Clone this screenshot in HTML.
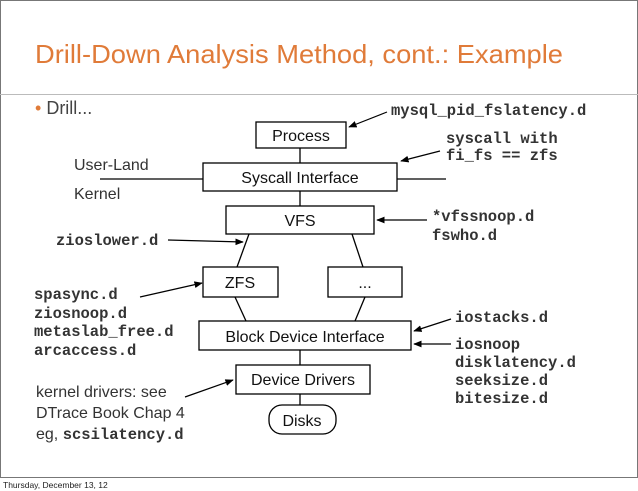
<!DOCTYPE html>
<html><head><meta charset="utf-8"><style>
html,body{margin:0;padding:0;background:#fff;width:638px;height:491px;overflow:hidden}
svg{display:block}
.m{font-family:"Liberation Mono",monospace;font-weight:bold;font-size:15.5px;fill:#333}
.s{font-family:"Liberation Sans",sans-serif;font-size:16px;fill:#111}
.k{font-family:"Liberation Sans",sans-serif;font-size:16px;fill:#333}
</style></head><body>
<svg width="638" height="491" viewBox="0 0 638 491" xmlns="http://www.w3.org/2000/svg">
<defs><marker id="a" viewBox="0 0 10 10" refX="9" refY="5" markerWidth="7" markerHeight="7" orient="auto"><path d="M0,1 L10,5 L0,9 z" fill="#000"/></marker></defs>
<rect x="0.5" y="0.5" width="637" height="477" fill="#fff" stroke="#777"/>
<line x1="0" y1="94.5" x2="638" y2="94.5" stroke="#bbb"/>
<text x="35" y="63" font-family="Liberation Sans,sans-serif" font-size="26" fill="#E07B39" textLength="528" lengthAdjust="spacingAndGlyphs">Drill-Down Analysis Method, cont.: Example</text>
<text x="35" y="114" font-family="Liberation Sans,sans-serif" font-size="18" fill="#444"><tspan fill="#E07B39">•</tspan> Drill...</text>
<g stroke="#000" stroke-width="1.3" fill="#fff">
<line x1="300" y1="148" x2="300" y2="163"/>
<line x1="300" y1="191" x2="300" y2="206"/>
<line x1="100" y1="179" x2="203" y2="179"/>
<line x1="397" y1="179" x2="446" y2="179"/>
<line x1="249" y1="234" x2="237" y2="267"/>
<line x1="352" y1="234" x2="363" y2="267"/>
<line x1="235" y1="297" x2="246" y2="321"/>
<line x1="365" y1="297" x2="355" y2="321"/>
<line x1="300" y1="350" x2="300" y2="365"/>
<line x1="300" y1="394" x2="300" y2="405"/>
<rect x="256" y="122" width="90" height="26"/>
<rect x="203" y="163" width="194" height="28"/>
<rect x="226" y="206" width="148" height="28"/>
<rect x="203" y="267" width="75" height="30"/>
<rect x="328" y="267" width="74" height="30"/>
<rect x="199" y="321" width="212" height="29"/>
<rect x="236" y="365" width="134" height="29"/>
<rect x="269" y="405" width="67" height="29" rx="13"/>
</g>
<g class="s" text-anchor="middle">
<text x="301" y="141">Process</text>
<text x="300" y="183">Syscall Interface</text>
<text x="300" y="226">VFS</text>
<text x="240" y="288">ZFS</text>
<text x="365" y="288">...</text>
<text x="305" y="342">Block Device Interface</text>
<text x="303" y="385">Device Drivers</text>
<text x="302" y="426">Disks</text>
</g>
<text class="k" x="74" y="170">User-Land</text>
<text class="k" x="74" y="199">Kernel</text>
<g stroke="#000" stroke-width="1.2" marker-end="url(#a)">
<line x1="387" y1="112" x2="349" y2="127"/>
<line x1="440" y1="151" x2="401" y2="161"/>
<line x1="427" y1="220" x2="377" y2="220"/>
<line x1="168" y1="240" x2="243" y2="242"/>
<line x1="140" y1="297" x2="202" y2="283"/>
<line x1="451" y1="319" x2="414" y2="331"/>
<line x1="451" y1="344" x2="414" y2="344"/>
<line x1="185" y1="397" x2="233" y2="380"/>
</g>
<g class="m">
<text x="391" y="115">mysql_pid_fslatency.d</text>
<text x="446" y="143">syscall with</text>
<text x="446" y="160">fi_fs == zfs</text>
<text x="432" y="221">*vfssnoop.d</text>
<text x="432" y="240">fswho.d</text>
<text x="56" y="245">zioslower.d</text>
<text x="34" y="299">spasync.d</text>
<text x="34" y="318">ziosnoop.d</text>
<text x="34" y="336">metaslab_free.d</text>
<text x="34" y="355">arcaccess.d</text>
<text x="455" y="322">iostacks.d</text>
<text x="455" y="349">iosnoop</text>
<text x="455" y="367">disklatency.d</text>
<text x="455" y="385">seeksize.d</text>
<text x="455" y="403">bitesize.d</text>
</g>
<text class="k" x="36" y="397">kernel drivers: see</text>
<text class="k" x="36" y="418">DTrace Book Chap 4</text>
<text class="k" x="36" y="439">eg, <tspan class="m">scsilatency.d</tspan></text>
<text x="3" y="488" font-family="Liberation Sans,sans-serif" font-size="8.5" fill="#222">Thursday, December 13, 12</text>
</svg>
</body></html>
